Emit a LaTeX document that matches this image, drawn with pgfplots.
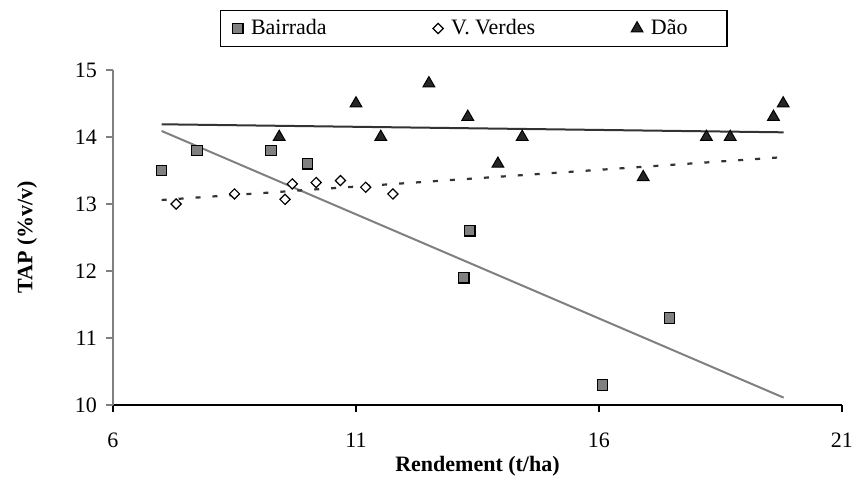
\documentclass[border=0pt]{standalone}
\usepackage{fontspec}
\setmainfont{Liberation Serif}
\usepackage{pgfplots}
\pgfplotsset{compat=1.18}
\definecolor{bair}{RGB}{128,128,128}
\definecolor{dao}{RGB}{38,38,38}
\definecolor{trend}{RGB}{51,51,51}
\begin{document}
\begin{tikzpicture}
\begin{axis}[
  width=364.5pt, height=167.5pt, scale only axis,
  xmin=6, xmax=21, ymin=10, ymax=15,
  xtick={6,11,16,21}, ytick={10,11,12,13,14,15},
  axis x line=bottom, axis y line=left,
  x axis line style={-, black, line width=0.6pt},
  y axis line style={-, bair, line width=0.6pt},
  tick align=outside,
  major tick length=3.5pt,
  xtick style={black, line width=0.6pt},
  ytick style={bair, line width=0.6pt},
  tick label style={font=\fontsize{11}{13}\selectfont},
  /pgf/number format/assume math mode=true,
  xticklabel style={yshift=-7pt},
  yticklabel style={xshift=-1pt},
  xlabel={Rendement (t/ha)}, ylabel={TAP (\%v/v)},
  label style={font=\bfseries\fontsize{11}{13}\selectfont},
  xlabel style={at={(rel axis cs:0.5,-0.182)}, anchor=center},
  ylabel style={at={(rel axis cs:-0.118,0.5)}, anchor=center},
  clip=false,
  legend columns=3,
  legend image code/.code={\draw[#1, mark repeat=1] plot coordinates {(0pt,0pt)};},
  legend style={at={(rel axis cs:0.1468,1.124)}, anchor=west, draw=black, line width=0.6pt,
    font=\fontsize{11}{13}\selectfont, inner xsep=6pt, inner ysep=2.6pt,
    /tikz/every even column/.append style={column sep=0pt}},
]
% trend lines
\addplot[bair, line width=1pt, forget plot] coordinates {(7.0,14.09) (19.8,10.11)};
\addplot[trend, line width=1pt, forget plot] coordinates {(7.0,14.19) (19.8,14.07)};
\addplot[trend, line width=1.1pt, dash pattern=on 2.5pt off 6pt, forget plot] coordinates {(7.0,13.06) (19.8,13.70)};
% data
\addplot[only marks, mark=square*, mark size=2.6pt, mark options={fill=bair, draw=black, line width=0.6pt}]
 coordinates {(7.0,13.5) (7.73,13.8) (9.25,13.8) (10.0,13.6) (13.22,11.9) (13.34,12.6) (16.07,10.3) (17.45,11.3)};
\addlegendentry{\hspace*{2pt}\makebox[89pt][l]{Bairrada}}
\addplot[only marks, mark=square*, mark size=1.8pt, mark options={rotate=45, fill=white, draw=black, line width=0.6pt}]
 coordinates {(7.30,13.0) (8.50,13.15) (9.54,13.07) (9.69,13.3) (10.18,13.32) (10.68,13.35) (11.2,13.25) (11.76,13.15)};
\addlegendentry{\hspace*{2pt}\makebox[88pt][l]{V. Verdes}}
\addplot[only marks, mark=triangle*, mark size=3.4pt, mark options={fill=dao, draw=black, line width=0.5pt}]
 coordinates {(9.42,14.0) (11.0,14.5) (11.51,14.0) (12.5,14.8) (13.3,14.3) (13.92,13.6) (14.42,14.0) (16.91,13.4) (18.21,14.0) (18.70,14.0) (19.59,14.3) (19.79,14.5)};
\addlegendentry{\hspace*{2pt}\makebox[30pt][l]{Dão}}
\coordinate (bl) at (rel axis cs:-0.155,-0.2269);
\coordinate (tr) at (rel axis cs:1.0151,1.209);
\end{axis}
\pgfresetboundingbox
\path[use as bounding box] (bl) rectangle (tr);
\end{tikzpicture}
\end{document}
